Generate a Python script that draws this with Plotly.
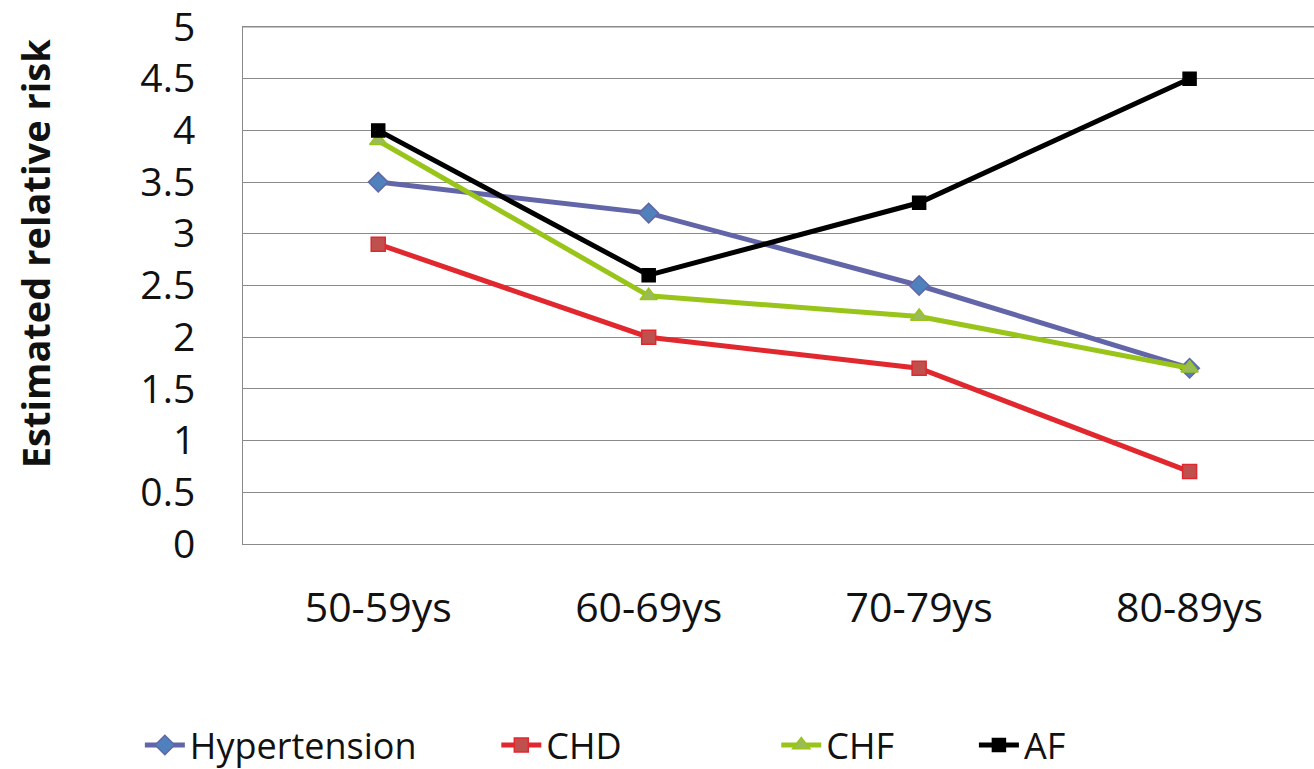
import plotly.graph_objects as go

age_groups = ["50-59ys", "60-69ys", "70-79ys", "80-89ys"]
hypertension = [3.5, 3.2, 2.5, 1.7]
chd = [2.9, 2.0, 1.7, 0.7]
chf = [3.9, 2.4, 2.2, 1.7]
af = [4.0, 2.6, 3.3, 4.5]
y_ticks = [0, 0.5, 1, 1.5, 2, 2.5, 3, 3.5, 4, 4.5, 5]
y_tick_text = ["0", "0.5", "1", "1.5", "2", "2.5", "3", "3.5", "4", "4.5", "5"]

FONT = "Open Sans"
NB = "\u00a0"  # non-breaking space used to widen legend entries
GRID = "#8A8A8A"

series = [
    ("Hypertension", 8, hypertension, "#6266A8", "#4F81BD", "diamond", 15),
    ("CHD", 16, chd, "#E0282E", "#C0504D", "square", 14),
    ("CHF", 8, chf, "#99C51A", "#9BBB59", "triangle-up", 15),
    ("AF", 0, af, "#000000", "#000000", "square", 13),
]

fig = go.Figure()
for name, pad, vals, line_col, mk_col, sym, size in series:
    fig.add_trace(go.Scatter(
        x=age_groups, y=vals, name=name + NB * pad, mode="lines+markers",
        line=dict(color=line_col, width=5),
        marker=dict(symbol=sym, size=size, color=mk_col,
                    line=dict(color=line_col, width=1.5)),
    ))

fig.update_layout(
    width=1314, height=769,
    margin=dict(l=243, r=0, t=27, b=225, autoexpand=False),
    paper_bgcolor="white", plot_bgcolor="white",
    font=dict(family=FONT, size=38, color="#111111"),
    showlegend=True,
    legend=dict(orientation="h", x=-0.0963, xanchor="left", y=-0.389, yanchor="middle",
                font=dict(family=FONT, size=36, color="#111111"),
                itemwidth=40, tracegroupgap=0),
    xaxis=dict(
        range=[-0.5, 3.46], showgrid=False, zeroline=False,
        showline=True, linecolor=GRID, linewidth=1, mirror=True,
        ticks="outside", ticklen=28, tickcolor="rgba(255,255,255,0)",
        tickfont=dict(size=41), ticklabeloverflow="allow",
    ),
    yaxis=dict(
        range=[0, 5], tickvals=y_ticks, ticktext=y_tick_text,
        showgrid=True, gridcolor=GRID, gridwidth=1,
        showline=True, linecolor=GRID, linewidth=1,
        zeroline=True, zerolinecolor=GRID, zerolinewidth=1,
        ticks="outside", ticklen=39, tickcolor="rgba(255,255,255,0)",
        tickfont=dict(size=39), ticklabeloverflow="allow",
    ),
    # top border of the plotting area (the y = 5 gridline)
    shapes=[dict(type="line", xref="paper", yref="paper", x0=0, x1=1, y0=1, y1=1,
                 line=dict(color=GRID, width=1.2), layer="below")],
    annotations=[dict(
        text="<b>Estimated relative risk</b>", textangle=-90,
        xref="paper", yref="paper", x=-0.194, y=0.561,
        xanchor="center", yanchor="middle", showarrow=False,
        font=dict(family=FONT, size=38, color="#111111"),
    )],
)

fig.write_html("out.html")
